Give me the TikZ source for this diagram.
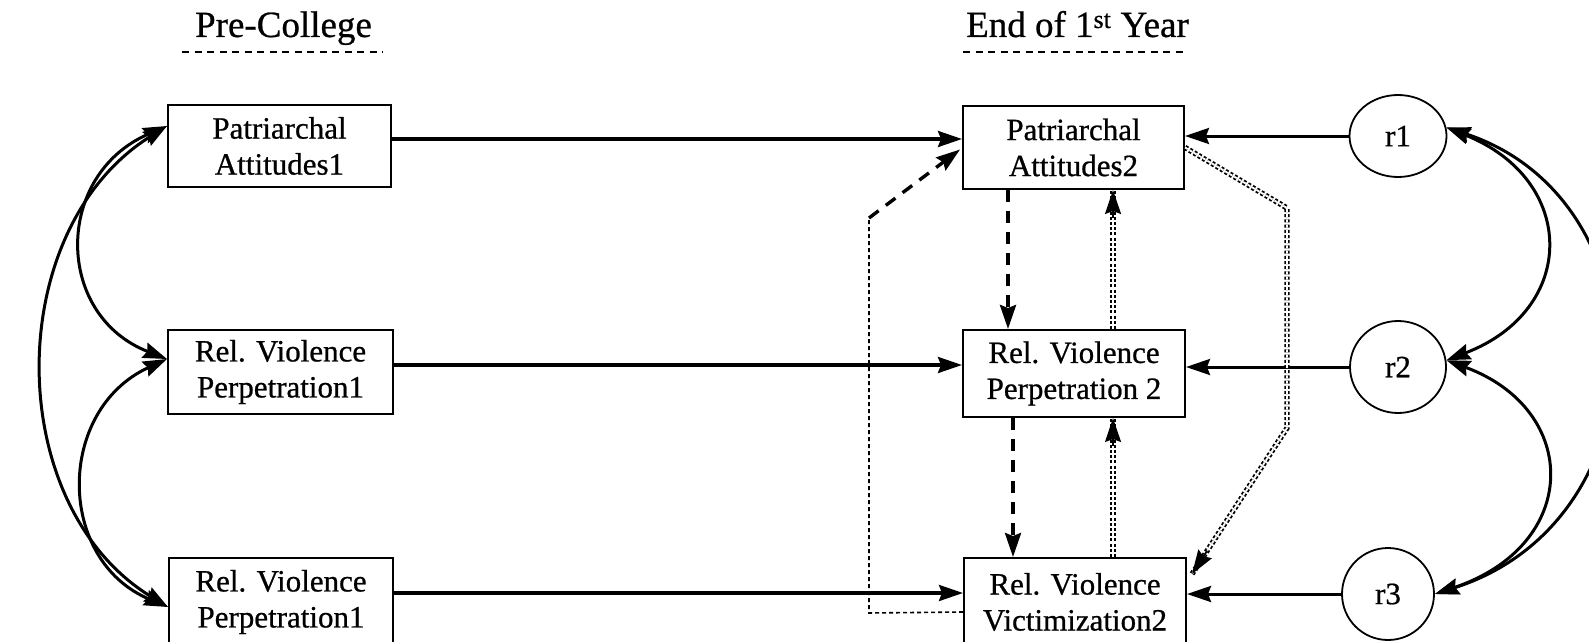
\documentclass[tikz,border=0pt]{standalone}
\usepackage{fontspec}
\setmainfont{Liberation Serif}[FakeBold=0.7]
\usetikzlibrary{arrows.meta,calc,shapes.geometric}
\newcommand{\bodysize}{\fontsize{31}{36}\selectfont}
\newcommand{\headsize}{\fontsize{37}{42}\selectfont}

\begin{document}
\begin{tikzpicture}[x=1pt,y=-1pt,
  >={Stealth[length=24pt,width=16pt,inset=3pt]},
  box/.style={draw,line width=2pt,inner sep=0pt,align=center,font=\bodysize},
  resid/.style={draw,ellipse,line width=1.8pt,inner sep=0pt,font=\bodysize},
  effect/.style={line width=3.2pt,->},
  resline/.style={line width=3pt,->},
  cov/.style={line width=3pt,<->},
  bolddash/.style={line width=3.4pt,dash pattern=on 12pt off 9pt},
  thindash/.style={line width=1.6pt,dash pattern=on 4pt off 3pt},
  dbldot/.style={double,double distance=1.8pt,line width=1.8pt,dash pattern=on 3pt off 2.2pt},
  dbltip/.style={line width=1.8pt,->},
  headrule/.style={line width=2pt,dash pattern=on 7pt off 5.5pt},
]
\useasboundingbox (0,0) rectangle (1589,642);

% column headings
\node[font=\headsize,anchor=base] (hpre) at (283.5,37) {Pre-College};
\node[font=\headsize,anchor=base] (hend) at (1077.5,37) {End of 1\textsuperscript{st} Year};
\draw[headrule] (182,52) -- (383,52);
\draw[headrule] (963,52) -- (1184,52);

% pre-college measures
\node[box,minimum width=223pt,minimum height=82pt] (L1) at (279.5,146) {Patriarchal\\Attitudes1};
\node[box,minimum width=225pt,minimum height=84pt] (L2) at (280.5,372) {Rel. Violence\\Perpetration1};
\node[box,minimum width=224pt,minimum height=88pt] (L3) at (281,602) {Rel. Violence\\Perpetration1};

% end-of-year measures
\node[box,minimum width=221pt,minimum height=83pt] (R1) at (1073.5,147.5) {Patriarchal\\Attitudes2};
\node[box,minimum width=222pt,minimum height=87pt] (R2) at (1074,373.5) {Rel. Violence\\Perpetration 2};
\node[box,minimum width=222pt,minimum height=88pt] (R3) at (1075,602) {Rel. Violence\\Victimization2};

% residuals
\node[resid,minimum width=97pt,minimum height=82pt] (r1) at (1398,136) {r1};
\node[resid,minimum width=96pt,minimum height=92pt] (r2) at (1398,367) {r2};
\node[resid,minimum width=92pt,minimum height=92pt] (r3) at (1388,594) {r3};

% stability paths
\coordinate (s1) at ([yshift=7pt]L1.east);
\coordinate (s2) at ([yshift=7pt]L2.east);
\coordinate (s3) at ([yshift=9pt]L3.east);
\draw[effect] (s1) -- (s1 -| R1.west);
\draw[effect] (s2) -- (s2 -| R2.west);
\draw[effect] (s3) -- (s3 -| R3.west);

% residual paths
\draw[resline] (r1.west) -- (r1.west -| R1.east);
\draw[resline] (r2.west) -- (r2.west -| R2.east);
\draw[resline] (r3.west) -- (r3.west -| R3.east);

% correlations among pre-college measures
\coordinate (cl1) at ($(L1.north west)+(0,22)$);
\coordinate (cl2) at ($(L2.north west)+(0,30)$);
\coordinate (cl3) at ($(L3.north west)+(0,50)$);
\draw[cov] (cl1) .. controls (54,175) and (54,315) .. (cl2);
\draw[cov] (cl2) .. controls (56,410) and (56,560) .. (cl3);
\draw[cov] (cl1) .. controls (2,230) and (2,505) .. (cl3);

% correlations among residuals
\draw[cov] (r1.10) .. controls (1578,180) and (1578,310) .. (r2.8);
\draw[cov] (r2.8) .. controls (1581,410) and (1581,545) .. (r3.east);
\draw[cov] (r1.10) .. controls (1667,200) and (1667,520) .. (r3.east);

% cross-lagged paths at the end of the year
\coordinate (xa) at (1008,0);
\coordinate (xb) at (1013,0);
\coordinate (xc) at (1113,0);
\draw[bolddash,->] (R1.south -| xa) -- (R2.north -| xa);
\draw[bolddash,->] (R2.south -| xb) -- (R3.north -| xb);

\draw[dbldot] (R3.north -| xc) -- (R2.south -| xc);
\draw[dbltip] ($(R2.south -| xc)+(0,28)$) -- (R2.south -| xc);
\draw[dbldot] (R2.north -| xc) -- (R1.south -| xc);
\draw[dbltip] ($(R1.south -| xc)+(0,28)$) -- (R1.south -| xc);

\coordinate (k1) at (1287,208);
\coordinate (k2) at (1287,428);
\coordinate (t5) at (1192,574);
\draw[dbldot] (R1.east) -- (k1) -- (k2) -- (t5);
\draw[dbltip] ($(k2)!0.84!(t5)$) -- (t5);

\coordinate (c6s) at ($(R3.north west)+(0,55)$);
\coordinate (c6b) at (869,613);
\coordinate (c6c) at (869,218);
\draw[thindash] (c6s) -- (c6b) -- (c6c);
\draw[bolddash,->] (c6c) -- ($(R1.west)+(-2,2)$);
\end{tikzpicture}
\end{document}
